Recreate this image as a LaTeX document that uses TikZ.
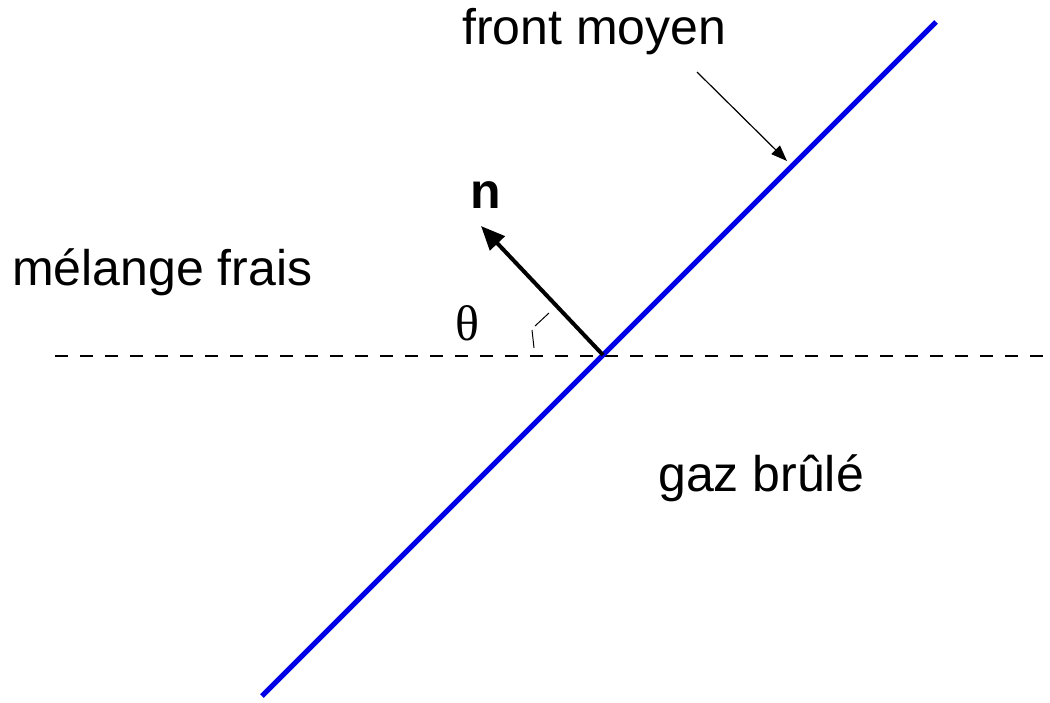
\documentclass[tikz,border=0pt]{standalone}
\usepackage{fontspec}
\setmainfont{Liberation Sans}
\newfontfamily\serifgr{Liberation Serif}
\usetikzlibrary{arrows.meta}
\begin{document}
\begin{tikzpicture}[x=1pt,y=-1pt,
  lbl/.style={anchor=base west,inner sep=0pt,font=\fontsize{50}{60}\selectfont},
  front/.style={draw={rgb,255:red,0;green,0;blue,230},line width=5pt},
  normal/.style={line width=4pt,-{Triangle[length=24pt,width=20pt]}},
  pointer/.style={line width=1.2pt,-{Triangle[length=16pt,width=12pt]}},
  axis/.style={line width=1.3pt,dash pattern=on 13pt off 12pt}]
\useasboundingbox (0,0) rectangle (1050,702);
\coordinate (A) at (262,696);
\coordinate (B) at (936,22);
\coordinate (O) at (603,355);
\coordinate (L) at (55,356);
\coordinate (R) at (1050,356);
\coordinate (N) at (481,226);
\coordinate (P0) at (697,72);
\coordinate (P1) at (787,161);
\draw[axis] (L) -- (R);
\draw[front] (A) -- (B);
\draw[normal] (O) -- (N);
\draw[pointer] (P0) -- (P1);
\draw[line width=1pt] (534,348) -- (532,330) (535,326) -- (549,313);
\node[lbl] (tfront) at (462,44) {front moyen};
\node[lbl] (tmel) at (12,285) {mélange frais};
\node[lbl] (tgaz) at (658,491) {gaz brûlé};
\node[lbl,font=\fontsize{50}{60}\selectfont\bfseries] (tn) at (470,208) {n};
\node[lbl,font=\fontsize{50}{60}\selectfont\serifgr] (tth) at (455,340) {θ};
\end{tikzpicture}
\end{document}
